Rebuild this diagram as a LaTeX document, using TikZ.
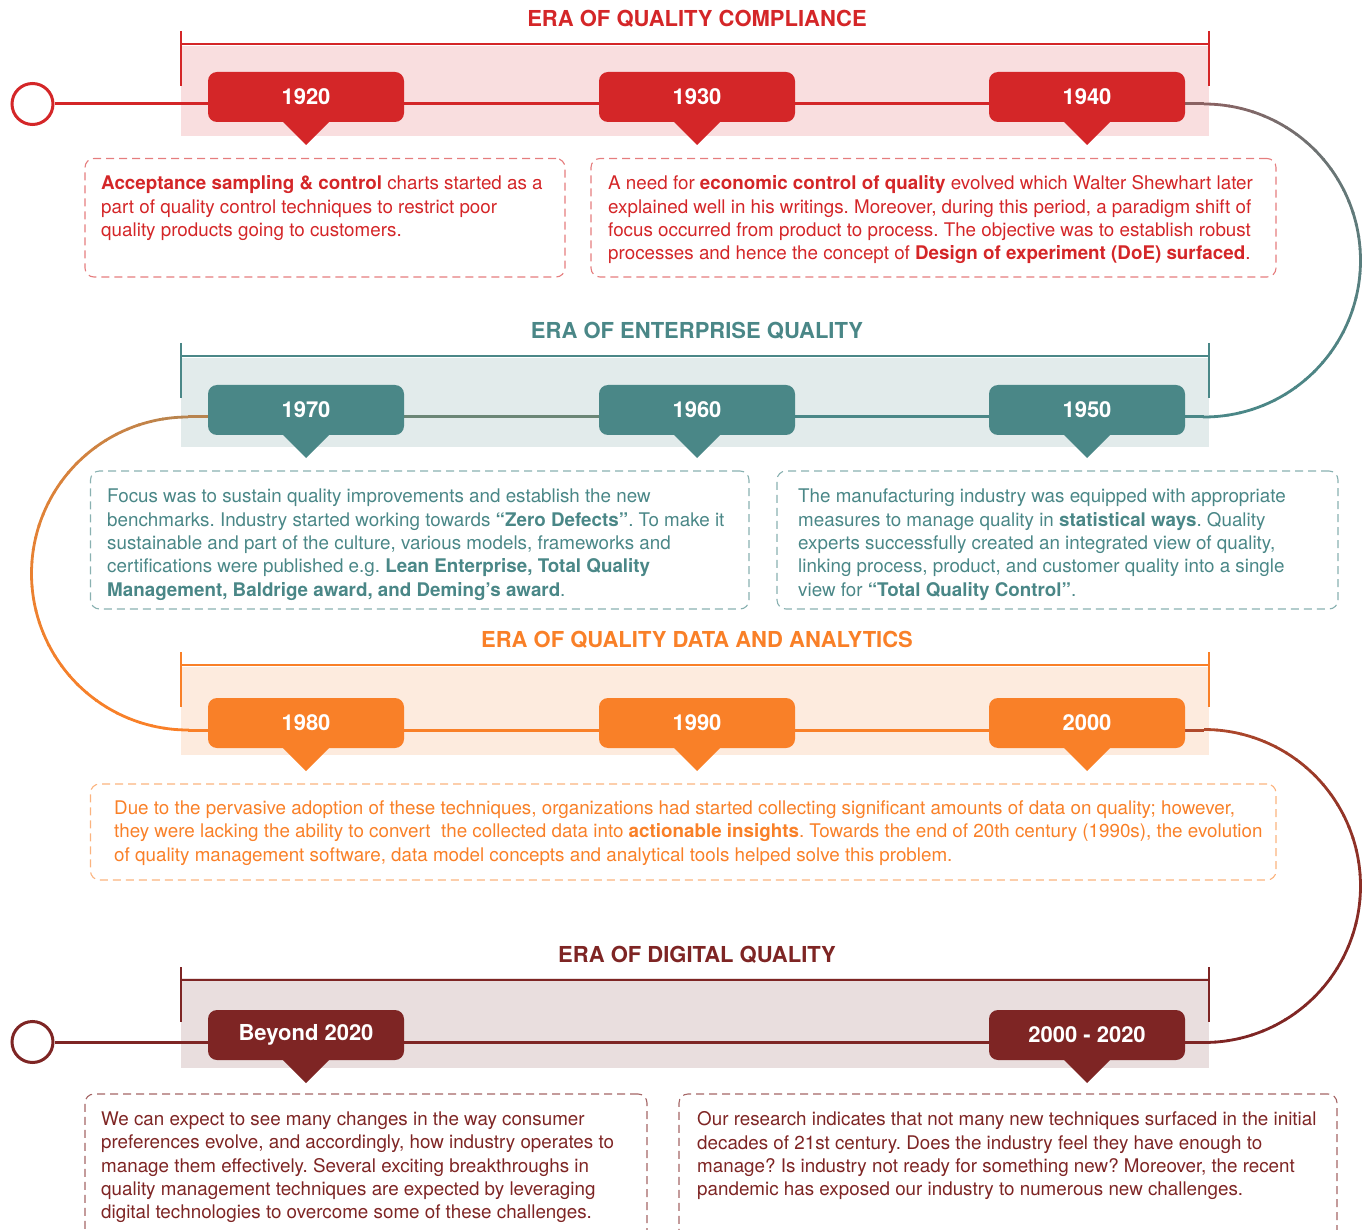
\documentclass[tikz,border=0pt]{standalone}
\usepackage{fontspec}
\setmainfont{TeX Gyre Heros}
\frenchspacing
\usetikzlibrary{calc}
\pgfdeclarelayer{bg}\pgfdeclarelayer{ln}\pgfsetlayers{bg,ln,main}
\definecolor{cred}{HTML}{D42628}
\definecolor{cteal}{HTML}{4A8787}
\definecolor{corange}{HTML}{F98028}
\definecolor{cdark}{HTML}{7E2524}
\definecolor{bred}{HTML}{F9DEDF}
\definecolor{bteal}{HTML}{E2EBEB}
\definecolor{borange}{HTML}{FDEBDE}
\definecolor{bdark}{HTML}{E9DEDE}
\definecolor{gA}{HTML}{8A6262}
\definecolor{gB}{HTML}{B8844F}
\definecolor{gC}{HTML}{B04A2C}
\newcommand\bodyfnt{\fontsize{18.8}{23.3}\selectfont}
\newcommand\tagfnt{\fontsize{22}{26}\selectfont\bfseries}
\newcommand\erafnt{\fontsize{22}{26}\selectfont\bfseries}
\newcommand\gradarc[5]{%
 \foreach \k in {0,...,39}{%
  \pgfmathsetmacro\angA{#2+(#3-(#2))*\k/40}%
  \pgfmathsetmacro\angB{#2+(#3-(#2))*(\k+1.1)/40}%
  \pgfmathsetmacro\mixp{100*(1-\k/39)^2}%
  \draw[line width=2.8pt, draw={#4!\mixp!#5}] ([shift={(\angA:156.5)}]#1) arc[start angle=\angA, end angle=\angB, radius=156.5];
 }}
\newcommand\pointer[2]{\fill[#2] ([yshift=1pt]#1.south) ++(-24,0) -- ++(48,0) -- ++(-24,24) -- cycle;}
\tikzset{
 yeartag/.style={fill=#1, text=white, rounded corners=9pt, minimum width=196pt, minimum height=50pt, inner sep=0pt, outer sep=0pt, font=\tagfnt},
 eratitle/.style={text=#1, font=\erafnt, inner sep=0pt},
 bracket/.style={draw=#1, line width=2.5pt},
 tline/.style={draw=#1, line width=3pt},
 startdot/.style={circle, draw=#1, fill=white, line width=3pt, minimum size=41pt, inner sep=0pt},
 dbox/.style={draw=#1, dash pattern=on 8pt off 5pt, line width=1.1pt, rounded corners=9pt, inner sep=0pt, outer sep=0pt, anchor=north west},
 body/.style={text=#1, font=\bodyfnt, align=left, inner sep=0pt, anchor=north west},
}
\begin{document}
\begin{tikzpicture}[x=1pt,y=-1pt]
\useasboundingbox (0,0) rectangle (1363,1230);
% ---------- bands ----------
\begin{pgfonlayer}{bg}
\fill[bred] (181,46) rectangle (1209,136);
\fill[bteal] (181,358) rectangle (1209,447);
\fill[borange] (181,667) rectangle (1209,755);
\fill[bdark] (181,978) rectangle (1209,1068);
\end{pgfonlayer}
% ---------- titles & brackets ----------
\node[eratitle=cred] (e1) at (697,19) {ERA OF QUALITY COMPLIANCE};
\node[eratitle=cteal] (e2) at (697,331) {ERA OF ENTERPRISE QUALITY};
\node[eratitle=corange] (e3) at (697,640) {ERA OF QUALITY DATA AND ANALYTICS};
\node[eratitle=cdark] (e4) at (697,955) {ERA OF DIGITAL QUALITY};
\draw[bracket=cred] (181,31) -- (181,86) (181,44) -- (1209,44) (1209,31) -- (1209,86);
\draw[bracket=cteal] (181,343) -- (181,398) (181,356) -- (1209,356) (1209,343) -- (1209,398);
\draw[bracket=corange] (181,652) -- (181,707) (181,665) -- (1209,665) (1209,652) -- (1209,707);
\draw[bracket=cdark] (181,967) -- (181,1022) (181,980) -- (1209,980) (1209,967) -- (1209,1022);
% ---------- start dots & coordinates ----------
\node[startdot=cred] (s1) at (32.5,104) {};
\node[startdot=cdark] (s4) at (32.5,1042) {};
\coordinate (r1) at (1204,104);
\coordinate (c1) at (1204,260.5);
\coordinate (r2) at (1204,417);
\coordinate (l2) at (188,417);
\coordinate (c2) at (188,573.5);
\coordinate (l3) at (188,730);
\coordinate (r3) at (1204,730);
\coordinate (c3) at (1204,886);
\coordinate (r4) at (1204,1042);
% ---------- tags ----------
\node[yeartag=cred] (t1920) at (306,97) {1920};
\node[yeartag=cred] (t1930) at (697,97) {1930};
\node[yeartag=cred] (t1940) at (1087,97) {1940};
\node[yeartag=cteal] (t1970) at (306,410) {1970};
\node[yeartag=cteal] (t1960) at (697,410) {1960};
\node[yeartag=cteal] (t1950) at (1087,410) {1950};
\node[yeartag=corange] (t1980) at (306,723) {1980};
\node[yeartag=corange] (t1990) at (697,723) {1990};
\node[yeartag=corange] (t2000) at (1087,723) {2000};
\node[yeartag=cdark] (tb2020) at (306,1035) {Beyond 2020};
\node[yeartag=cdark] (t20002020) at (1087,1035) {2000 - 2020};
\pointer{t1920}{cred}\pointer{t1930}{cred}\pointer{t1940}{cred}
\pointer{t1970}{cteal}\pointer{t1960}{cteal}\pointer{t1950}{cteal}
\pointer{t1980}{corange}\pointer{t1990}{corange}\pointer{t2000}{corange}
\pointer{tb2020}{cdark}\pointer{t20002020}{cdark}
% ---------- timeline lines ----------
\begin{pgfonlayer}{ln}
\draw[tline=cred] (s1.east) -- (t1920.west |- s1) (t1920.east |- s1) -- (t1930.west |- s1) (t1930.east |- s1) -- (t1940.west |- s1);
\draw[tline=gA] (t1940.east |- r1) -- (r1);
\gradarc{c1}{-90}{90}{gA}{cteal}
\draw[tline=cteal] (r2) -- (t1950.east |- r2) (t1950.west |- r2) -- (t1960.east |- r2);
\draw[tline=cteal!70!gB] (t1960.west |- r2) -- (t1970.east |- r2);
\draw[tline=gB] (t1970.west |- l2) -- (l2);
\gradarc{c2}{-90}{-270}{gB}{corange}
\draw[tline=corange] (l3) -- (t1980.west |- l3) (t1980.east |- l3) -- (t1990.west |- l3) (t1990.east |- l3) -- (t2000.west |- l3);
\draw[tline=gC] (t2000.east |- r3) -- (r3);
\gradarc{c3}{-90}{90}{gC}{cdark}
\draw[tline=cdark] (r4) -- (t20002020.east |- r4) (t20002020.west |- r4) -- (tb2020.east |- r4) (tb2020.west |- r4) -- (s4.east);
\end{pgfonlayer}
% ---------- dashed boxes ----------
\node[dbox=cred!60, minimum width=480pt, minimum height=118.5pt] (b1) at (85,158.5) {};
\node[dbox=cred!60, minimum width=685pt, minimum height=118.5pt] (b2) at (591,158.5) {};
\node[dbox=cteal!65, minimum width=658.5pt, minimum height=138pt] (b3) at (90.5,471) {};
\node[dbox=cteal!65, minimum width=561pt, minimum height=138pt] (b4) at (777,471) {};
\node[dbox=corange!60, minimum width=1185.5pt, minimum height=96pt] (b5) at (90.5,784) {};
\node[dbox=cdark!70, minimum width=562pt, minimum height=150pt] (b6) at (85,1094) {};
\node[dbox=cdark!70, minimum width=658pt, minimum height=150pt] (b7) at (679,1094) {};
% ---------- texts ----------
\node[body=cred] (x1) at (101,175.5) {\textbf{Acceptance sampling \& control} charts started as a\\
part of quality control techniques to restrict poor\\
quality products going to customers.};
\node[body=cred] (x2) at (608,175.5) {A need for \textbf{economic control of quality} evolved which Walter Shewhart later\\
explained well in his writings. Moreover, during this period, a paradigm shift of\\
focus occurred from product to process. The objective was to establish robust\\
processes and hence the concept of \textbf{Design of experiment (DoE) surfaced}.};
\node[body=cteal] (x3) at (107,489) {Focus was to sustain quality improvements and establish the new\\
benchmarks. Industry started working towards \textbf{“Zero Defects”}. To make it\\
sustainable and part of the culture, various models, frameworks and\\
certifications were published e.g. \textbf{Lean Enterprise, Total Quality}\\
\textbf{Management, Baldrige award, and Deming’s award}.};
\node[body=cteal] (x4) at (798,489) {The manufacturing industry was equipped with appropriate\\
measures to manage quality in \textbf{statistical ways}. Quality\\
experts successfully created an integrated view of quality,\\
linking process, product, and customer quality into a single\\
view for \textbf{“Total Quality Control”}.};
\node[body=corange] (x5) at (114,800.5) {Due to the pervasive adoption of these techniques, organizations had started collecting significant amounts of data on quality; however,\\
they were lacking the ability to convert\ \ the collected data into \textbf{actionable insights}. Towards the end of 20th century (1990s), the evolution\\
of quality management software, data model concepts and analytical tools helped solve this problem.};
\node[body=cdark] (x6) at (101,1111.5) {We can expect to see many changes in the way consumer\\
preferences evolve, and accordingly, how industry operates to\\
manage them effectively. Several exciting breakthroughs in\\
quality management techniques are expected by leveraging\\
digital technologies to overcome some of these challenges.};
\node[body=cdark] (x7) at (697,1111.5) {Our research indicates that not many new techniques surfaced in the initial\\
decades of 21st century. Does the industry feel they have enough to\\
manage? Is industry not ready for something new? Moreover, the recent\\
pandemic has exposed our industry to numerous new challenges.};
\end{tikzpicture}
\end{document}
